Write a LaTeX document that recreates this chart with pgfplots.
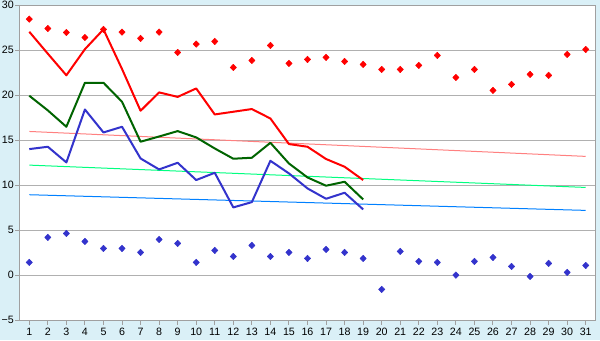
\documentclass[border=0pt]{standalone}
\usepackage{pgfplots}
\pgfplotsset{compat=1.18}
\usepackage{fontspec}
\setmainfont{Liberation Sans}

\definecolor{bg}{RGB}{218,240,247}
\definecolor{gridgray}{RGB}{176,176,176}
\definecolor{axisgray}{RGB}{160,160,160}
\definecolor{redc}{RGB}{255,0,0}
\definecolor{greenc}{RGB}{0,100,0}
\definecolor{bluec}{RGB}{51,51,204}
\definecolor{trendred}{RGB}{255,128,128}
\definecolor{trendgreen}{RGB}{0,255,128}
\definecolor{trendblue}{RGB}{0,128,255}

\begin{document}
\begin{tikzpicture}
% outer background, 600x340 px at 0.75pt/px
\fill[bg] (-15pt,-15pt) rectangle (435pt,240pt);
\begin{axis}[
    scale only axis, width=431.25pt, height=236.25pt,
    xmin=0.5, xmax=31.5, ymin=-5, ymax=30,
    xtick={1,...,31}, ytick={-5,0,...,30},
    yticklabels={−5,0,5,10,15,20,25,30},
    axis background/.style={fill=white},
    axis line style={draw=axisgray, line width=0.75pt},
    ymajorgrids, grid style={gridgray, line width=0.75pt},
    tick style={axisgray, line width=0.75pt},
    tick align=outside, tick pos=left,
    major tick length=3.5pt,
    tick label style={font=\fontsize{8}{9}\selectfont},
    /pgf/number format/assume math mode=true,
    xticklabel style={inner sep=1pt, yshift=-1.5pt},
    yticklabel style={inner sep=1pt},
    clip=true,
    every axis plot/.append style={line join=round},
    mk/.style={only marks, mark=diamond*, mark size=2.4pt,
      mark options={xscale=1.3}},
]
% trend lines
\addplot[trendred, line width=0.75pt] coordinates {(1,15.96) (31,13.19)};
\addplot[trendgreen, line width=0.75pt] coordinates {(1,12.22) (31,9.74)};
\addplot[trendblue, line width=0.75pt] coordinates {(1,8.93) (31,7.19)};

% red line
\addplot[redc, line width=1.5pt] coordinates {
  (1,27.04) (2,24.6) (3,22.2) (4,25.1) (5,27.3) (6,22.9) (7,18.26) (8,20.3)
  (9,19.8) (10,20.74) (11,17.85) (12,18.15) (13,18.45) (14,17.4) (15,14.56)
  (16,14.26) (17,12.9) (18,12.04) (19,10.56)};
% green line
\addplot[greenc, line width=1.5pt] coordinates {
  (1,19.93) (2,18.3) (3,16.48) (4,21.37) (5,21.37) (6,19.26) (7,14.82) (8,15.4)
  (9,16.0) (10,15.3) (11,14.07) (12,12.93) (13,13.04) (14,14.7) (15,12.4)
  (16,10.85) (17,9.93) (18,10.37) (19,8.41)};
% blue line
\addplot[bluec, line width=1.5pt] coordinates {
  (1,14.0) (2,14.26) (3,12.52) (4,18.4) (5,15.85) (6,16.48) (7,12.96) (8,11.74)
  (9,12.48) (10,10.56) (11,11.37) (12,7.52) (13,8.11) (14,12.7) (15,11.3)
  (16,9.63) (17,8.48) (18,9.15) (19,7.3)};

% red markers (maxima)
\addplot[mk, redc] coordinates {
  (1,28.44) (2,27.4) (3,26.96) (4,26.4) (5,27.3) (6,27.0) (7,26.3) (8,27.0)
  (9,24.74) (10,25.67) (11,25.96) (12,23.07) (13,23.85) (14,25.52) (15,23.52)
  (16,23.96) (17,24.19) (18,23.74) (19,23.41) (20,22.85) (21,22.85) (22,23.3)
  (23,24.41) (24,21.96) (25,22.85) (26,20.52) (27,21.19) (28,22.3) (29,22.19)
  (30,24.52) (31,25.07)};
% blue markers (minima)
\addplot[mk, bluec] coordinates {
  (1,1.41) (2,4.19) (3,4.63) (4,3.74) (5,2.96) (6,2.96) (7,2.52) (8,3.96)
  (9,3.52) (10,1.41) (11,2.74) (12,2.07) (13,3.3) (14,2.07) (15,2.52)
  (16,1.85) (17,2.85) (18,2.52) (19,1.85) (20,-1.59) (21,2.63) (22,1.52)
  (23,1.41) (24,0.0) (25,1.52) (26,1.96) (27,0.96) (28,-0.15) (29,1.3)
  (30,0.3) (31,1.07)};
\end{axis}
\end{tikzpicture}
\end{document}
